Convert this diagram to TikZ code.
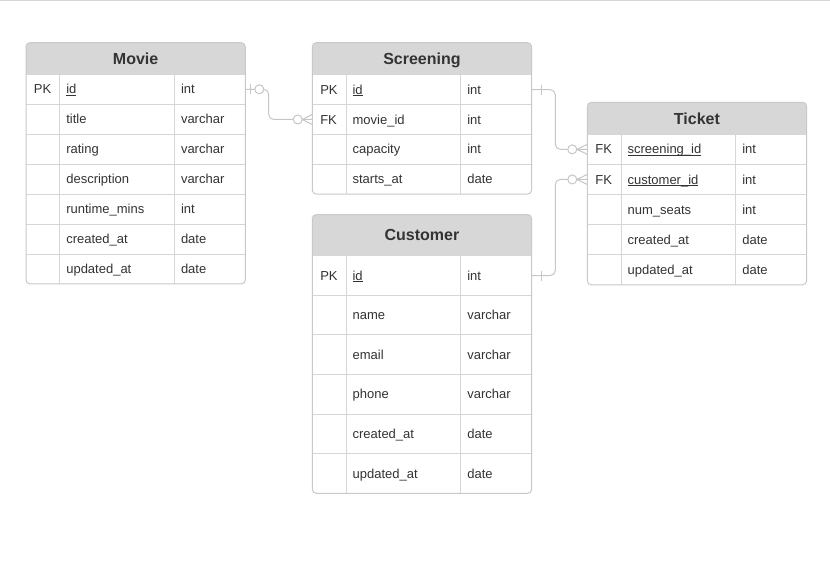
\documentclass[tikz,border=0pt]{standalone}
\usepackage{fontspec}
\setmainfont{Liberation Sans}
\definecolor{hdr}{HTML}{D7D7D7}
\definecolor{bord}{HTML}{C9C9C9}
\definecolor{gridc}{HTML}{D6D6D6}
\definecolor{txt}{HTML}{333333}
\definecolor{conn}{HTML}{C6C6C6}
\newcommand\ulx[1]{\setbox0\hbox{#1}\rlap{\rule[-2pt]{\wd0}{0.8pt}}\box0}
\tikzset{
  tablebox/.style={draw=bord, line width=1pt, rounded corners=4pt, inner sep=0pt, outer sep=0pt, minimum width=219.3pt},
  rowbox/.style={inner sep=0pt, outer sep=0pt, minimum width=219.3pt},
  cell/.style={inner sep=0pt, outer sep=0pt, text=txt, font=\fontsize{13}{15}\selectfont},
  ttl/.style={inner sep=0pt, outer sep=0pt, text=txt, font=\fontsize{16}{19}\selectfont\bfseries},
  gridline/.style={draw=gridc, line width=1pt},
  conn/.style={draw=conn, line width=1pt},
  connpath/.style={conn, rounded corners=5pt},
}
% #1 name, #2 x, #3 y, #4 header h, #5 row h, #6 nrows, #7 title, #8 rows
\newcommand\ertable[8]{%
  \pgfmathsetmacro\eHb{#3+#4}%
  \pgfmathsetmacro\eYb{#3+#4+#6*#5}%
  \pgfmathsetmacro\eH{#4+#6*#5}%
  \begin{scope}
    \clip[rounded corners=4pt] (#2,#3) rectangle ++(219.3,\eH);
    \fill[white] (#2,#3) rectangle ++(219.3,\eH);
    \fill[hdr] (#2,#3) rectangle ++(219.3,#4);
  \end{scope}
  \node[ttl, anchor=base] (#1-title) at (#2+109.65, #3+#4/2+5.8) {#7};
  \foreach \k/\f/\t [count=\i] in {#8} {
    \pgfmathsetmacro\eRt{\eHb+(\i-1)*#5}%
    \pgfmathsetmacro\eRc{\eRt+#5/2+4.6}%
    \draw[gridline] (#2,\eRt) -- ++(219.3,0);
    \node[rowbox, anchor=north west, minimum height=#5pt] (#1-\i) at (#2,\eRt) {};
    \node[cell, anchor=base west] (#1-\i-k) at (#2+8,\eRc) {\k};
    \node[cell, anchor=base west] (#1-\i-f) at (#2+40.3,\eRc) {\f};
    \node[cell, anchor=base west] (#1-\i-t) at (#2+155,\eRc) {\t};
  }
  \draw[gridline] (#2+33.7,\eHb) -- (#2+33.7,\eYb);
  \draw[gridline] (#2+148.6,\eHb) -- (#2+148.6,\eYb);
  \node[tablebox, anchor=north west, minimum height=\eH pt] (#1) at (#2,#3) {};
}
\begin{document}
\begin{tikzpicture}[x=1pt,y=-1pt]
\useasboundingbox (0,0) rectangle (830,578);
\draw[draw=gridc, line width=1pt] (0,0.5) -- (830,0.5);

\ertable{movie}{26}{42.7}{31.6}{29.95}{7}{Movie}{PK/\ulx{id}/int, /title/varchar, /rating/varchar, /description/varchar, /runtime\_mins/int, /created\_at/date, /updated\_at/date}
\ertable{screening}{312.3}{42.7}{32}{29.85}{4}{Screening}{PK/\ulx{id}/int, FK/movie\_id/int, /capacity/int, /starts\_at/date}
\ertable{customer}{312.3}{214.5}{41.2}{39.6}{6}{Customer}{PK/\ulx{id}/int, /name/varchar, /email/varchar, /phone/varchar, /created\_at/date, /updated\_at/date}
\ertable{ticket}{587.3}{102.3}{32}{30.1}{5}{Ticket}{FK/\ulx{screening\_id}/int, FK/\ulx{customer\_id}/int, /num\_seats/int, /created\_at/date, /updated\_at/date}

% Movie -> Screening
\draw[connpath] (movie-1.east) -- ++(23.4,0) |- (screening-2.west);
\draw[conn] ([xshift=5.4pt,yshift=5pt]movie-1.east) -- ([xshift=5.4pt,yshift=-5pt]movie-1.east);
\filldraw[conn, fill=white] ([xshift=14pt]movie-1.east) circle[radius=4.5pt];
\draw[conn] ([xshift=-10pt]screening-2.west) -- ([yshift=5pt]screening-2.west)
            ([xshift=-10pt]screening-2.west) -- ([yshift=-5pt]screening-2.west);
\filldraw[conn, fill=white] ([xshift=-14.6pt]screening-2.west) circle[radius=4.5pt];

% Screening -> Ticket
\draw[connpath] (screening-1.east) -- ++(23.7,0) |- (ticket-1.west);
\draw[conn] ([xshift=9.7pt,yshift=5pt]screening-1.east) -- ([xshift=9.7pt,yshift=-5pt]screening-1.east);
\draw[conn] ([xshift=-10.5pt]ticket-1.west) -- ([yshift=5pt]ticket-1.west)
            ([xshift=-10.5pt]ticket-1.west) -- ([yshift=-5pt]ticket-1.west);
\filldraw[conn, fill=white] ([xshift=-15pt]ticket-1.west) circle[radius=4.5pt];

% Customer -> Ticket
\draw[connpath] (customer-1.east) -- ++(23.7,0) |- (ticket-2.west);
\draw[conn] ([xshift=9.7pt,yshift=5pt]customer-1.east) -- ([xshift=9.7pt,yshift=-5pt]customer-1.east);
\draw[conn] ([xshift=-10.5pt]ticket-2.west) -- ([yshift=5pt]ticket-2.west)
            ([xshift=-10.5pt]ticket-2.west) -- ([yshift=-5pt]ticket-2.west);
\filldraw[conn, fill=white] ([xshift=-15pt]ticket-2.west) circle[radius=4.5pt];
\end{tikzpicture}
\end{document}
